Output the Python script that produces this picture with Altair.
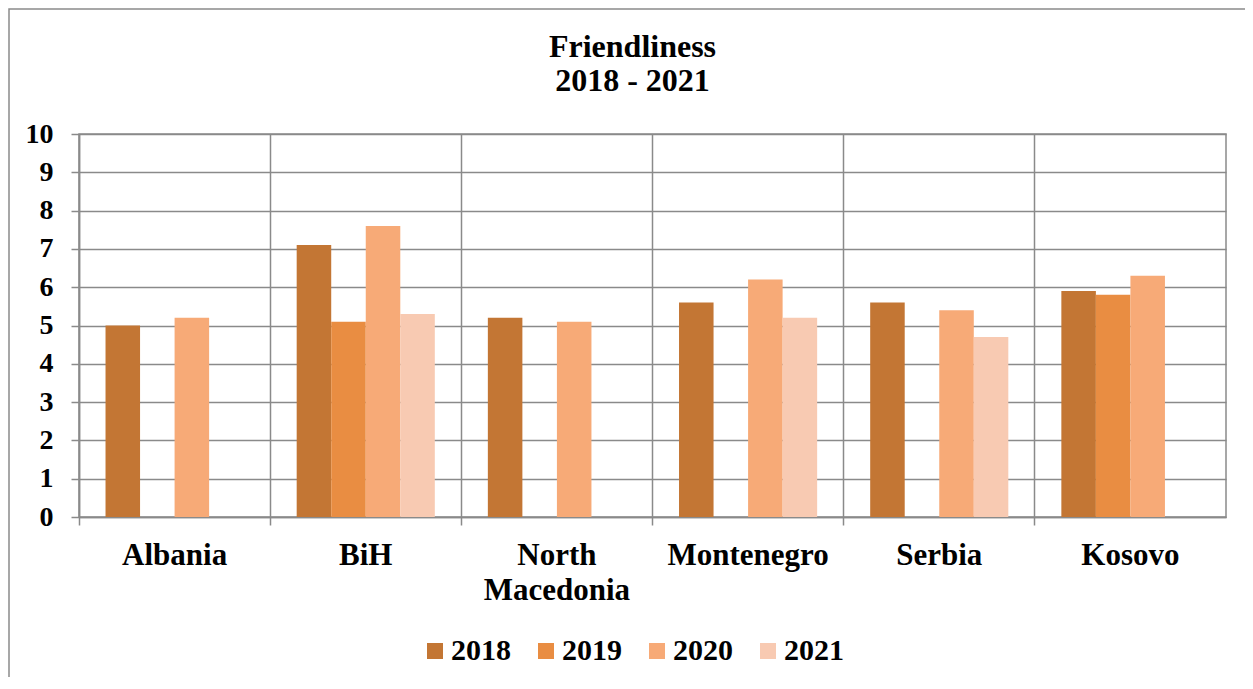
import altair as alt
import pandas as pd

countries = ["Albania", "BiH", "North Macedonia", "Montenegro", "Serbia", "Kosovo"]
years = ["2018", "2019", "2020", "2021"]
v2018 = [5.0, 7.1, 5.2, 5.6, 5.6, 5.9]
v2019 = [None, 5.1, None, None, None, 5.8]
v2020 = [5.2, 7.6, 5.1, 6.2, 5.4, 6.3]
v2021 = [None, 5.3, None, 5.2, 4.7, None]
colors = ["#C37634", "#E98D42", "#F7AA77", "#F8CAB2"]

rows = []
for yr, vals in zip(years, [v2018, v2019, v2020, v2021]):
    for c, v in zip(countries, vals):
        if v is not None:
            rows.append({"country": c, "year": yr, "value": v})
df = pd.DataFrame(rows)

FONT = "Liberation Serif"
GRID = "#8a8a8a"

bars = alt.Chart(df).mark_bar().encode(
    x=alt.X("country:N", sort=countries,
            scale=alt.Scale(paddingInner=0, paddingOuter=0),
            axis=alt.Axis(title=None, bandPosition=0, grid=True, gridColor=GRID, gridWidth=1.5,
                          domainColor=GRID, domainWidth=1.5, tickColor=GRID, tickWidth=1.5,
                          tickSize=8, labelPadding=15, labelAngle=0,
                          labelFont=FONT, labelFontWeight="bold", labelFontSize=31,
                          labelColor="black", labelLineHeight=35,
                          labelExpr="datum.label == 'North Macedonia' ? ['North', 'Macedonia'] : datum.label")),
    xOffset=alt.XOffset("year:N", sort=years,
                        scale=alt.Scale(domain=years, paddingInner=0, paddingOuter=0.768)),
    y=alt.Y("value:Q", scale=alt.Scale(domain=[0, 10], nice=False),
            axis=alt.Axis(title=None, values=list(range(11)), grid=True, gridColor=GRID, gridWidth=1.5,
                          domainColor=GRID, domainWidth=1.5, tickColor=GRID, tickWidth=1.5,
                          tickSize=8, labelPadding=18,
                          labelFont=FONT, labelFontWeight="bold", labelFontSize=28,
                          labelColor="black")),
    color=alt.Color("year:N", scale=alt.Scale(domain=years, range=colors),
                    legend=alt.Legend(title=None, orient="none", direction="horizontal",
                                      legendX=341, legendY=502, padding=0,
                                      symbolType="square", symbolSize=256, symbolStrokeWidth=0,
                                      symbolOpacity=1, labelOffset=1, columnPadding=20,
                                      labelFont=FONT, labelFontWeight="bold", labelFontSize=30,
                                      labelColor="black")),
)

border = alt.Chart(pd.DataFrame({"a": [0]})).mark_rect(
    fillOpacity=0, stroke=GRID, strokeWidth=1.5
).encode(x=alt.value(-70), x2=alt.value(1400), y=alt.value(-125), y2=alt.value(800))

chart = alt.layer(border, bars).properties(
    width=1147, height=383,
    autosize=alt.AutoSizeParams(type="none"),
    padding={"left": 71, "top": 126, "right": 19, "bottom": 160},
    title=alt.Title(["Friendliness", "2018 - 2021"], font=FONT, fontWeight="bold", fontSize=32,
                    color="black", anchor="middle", lineHeight=34, dx=-20, offset=30, dy=120),
).configure_view(stroke=GRID, strokeWidth=1.5)

chart.save("out.html", embed_options={"renderer": "svg", "actions": False})
